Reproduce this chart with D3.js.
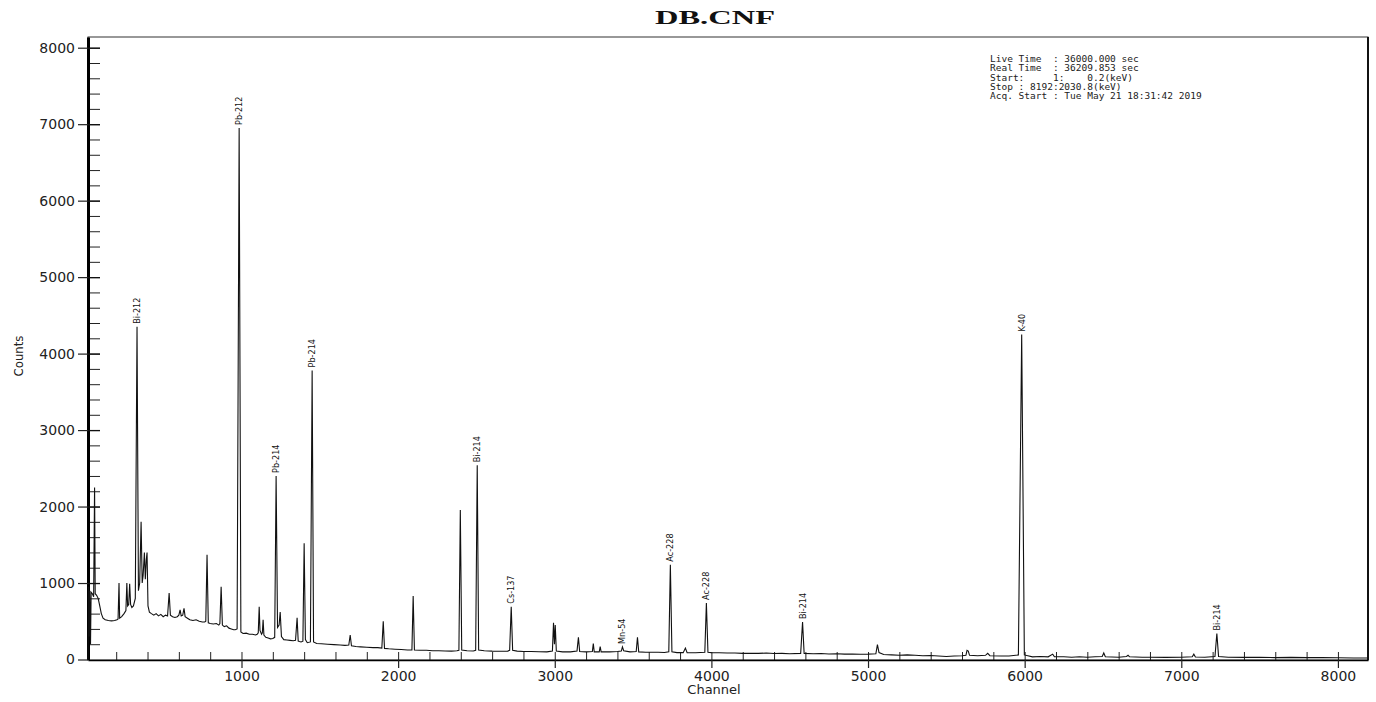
<!DOCTYPE html>
<html>
<head>
<meta charset="utf-8">
<script src="https://cdn.jsdelivr.net/npm/d3@7"></script>
<style>
  html, body { margin: 0; padding: 0; background: #fff; }
  svg { display: block; }
</style>
</head>
<body>
<svg id="chart" width="1376" height="702"></svg>
<script>
// ---- Data ----
const chartTitle = "DB.CNF";
const xTickValues = [1000, 2000, 3000, 4000, 5000, 6000, 7000, 8000];
const yTickValues = [0, 1000, 2000, 3000, 4000, 5000, 6000, 7000, 8000];

// spectrum as [channel, counts]
const spectrum = [
  [20,0],[23,950],[27,300],[31,900],[36,200],[40,880],[48,860],[56,820],
  [62,2250],[66,860],[75,840],[85,800],[95,700],[105,600],[116,540],[130,520],
  [150,510],[170,505],[190,510],[205,520],[212,530],[218,1000],[222,540],[235,560],
  [250,600],[262,640],[268,1000],[273,700],[280,720],[286,990],[292,720],[300,680],
  [310,700],[322,800],[333,4350],[342,900],[350,1000],[359,1800],[366,1000],[372,1100],
  [380,1400],[386,1050],[392,1300],[397,1400],[403,700],[412,620],[425,600],[440,580],
  [455,600],[470,570],[485,590],[500,560],[515,580],[528,570],[538,870],[546,580],
  [560,560],[575,550],[590,560],[600,580],[608,650],[615,570],[625,580],[633,670],
  [640,560],[655,540],[670,520],[690,510],[710,520],[730,500],[750,490],[765,490],
  [772,500],[780,1370],[788,480],[800,470],[820,465],[840,470],[855,450],[862,470],
  [870,950],[878,450],[890,430],[905,440],[920,410],[935,400],[950,390],[960,390],
  [972,400],[985,6950],[996,360],[1010,340],[1030,345],[1050,330],[1070,330],[1090,320],
  [1100,330],[1107,350],[1113,690],[1118,380],[1128,330],[1133,350],[1138,520],[1143,320],
  [1155,290],[1170,280],[1185,270],[1200,275],[1212,290],[1221,2400],[1230,420],[1240,450],
  [1247,620],[1255,300],[1270,260],[1290,255],[1310,250],[1330,245],[1345,250],[1355,545],
  [1362,240],[1370,235],[1380,230],[1392,240],[1400,1520],[1408,260],[1420,220],[1440,230],
  [1451,3780],[1460,230],[1480,210],[1510,205],[1550,200],[1590,195],[1630,190],[1660,185],
  [1685,190],[1694,320],[1702,180],[1730,170],[1760,165],[1800,160],[1840,155],[1870,155],
  [1896,150],[1905,500],[1913,145],[1940,140],[1980,135],[2020,130],[2060,125],[2088,125],
  [2096,830],[2104,125],[2140,120],[2180,120],[2220,115],[2260,115],[2300,112],[2340,110],
  [2375,115],[2388,120],[2397,1955],[2406,125],[2440,115],[2480,112],[2495,120],[2505,2540],
  [2514,125],[2550,115],[2600,110],[2650,108],[2700,110],[2712,120],[2722,690],[2731,120],
  [2760,110],[2800,105],[2850,105],[2900,102],[2950,100],[2985,110],[2992,480],[2998,200],
  [3003,450],[3010,110],[3050,100],[3100,100],[3142,110],[3151,290],[3159,105],[3200,100],
  [3240,105],[3246,210],[3252,100],[3284,100],[3290,170],[3296,100],[3350,100],[3400,105],
  [3425,110],[3432,165],[3440,115],[3480,100],[3520,105],[3528,290],[3536,100],[3580,95],
  [3620,95],[3660,95],[3700,92],[3728,100],[3738,1240],[3748,100],[3780,90],[3820,90],
  [3834,150],[3845,90],[3900,88],[3958,95],[3968,740],[3978,95],[4000,90],[4050,88],
  [4100,85],[4150,85],[4200,80],[4250,82],[4300,80],[4350,85],[4400,78],[4450,80],
  [4500,75],[4570,80],[4582,490],[4592,80],[4650,75],[4700,78],[4750,72],[4800,75],
  [4850,70],[4900,72],[4950,68],[5000,70],[5050,75],[5060,195],[5070,90],[5100,65],
  [5150,60],[5200,55],[5250,60],[5300,55],[5350,50],[5400,52],[5450,45],[5500,40],
  [5550,45],[5600,50],[5625,55],[5632,120],[5640,110],[5648,55],[5700,50],[5750,55],
  [5764,80],[5778,50],[5850,45],[5900,45],[5960,60],[5981,4250],[5998,60],[6050,35],
  [6100,40],[6150,35],[6179,70],[6190,35],[6250,35],[6300,30],[6350,35],[6400,30],
  [6450,35],[6495,40],[6505,85],[6515,35],[6600,30],[6650,40],[6660,55],[6670,35],
  [6750,30],[6800,30],[6900,28],[7000,30],[7070,35],[7080,70],[7090,32],[7150,30],
  [7215,40],[7227,340],[7238,40],[7300,30],[7400,28],[7500,30],[7600,25],[7700,28],
  [7800,25],[7900,25],[8000,22],[8100,20],[8190,20]
];

// identified peaks
const peakNames    = ["Bi-212","Pb-212","Pb-214","Pb-214","Bi-214","Cs-137","Mn-54","Ac-228","Ac-228","Bi-214","K-40","Bi-214"];
const peakChannels = [333, 985, 1221, 1451, 2505, 2722, 3432, 3738, 3968, 4582, 5981, 7227];
const peakCounts   = [4350, 6950, 2400, 3780, 2540, 690, 165, 1240, 740, 490, 4250, 340];

const infoLines = [
  "Live Time  : 36000.000 sec",
  "Real Time  : 36209.853 sec",
  "Start:     1:    0.2(keV)",
  "Stop : 8192:2030.8(keV)",
  "Acq. Start : Tue May 21 18:31:42 2019"
];

// ---- Layout ----
const svg = d3.select("#chart");
const L = 88, R = 1368, T = 37, B = 660;

const x = d3.scaleLinear().domain([20, 8192]).range([L, R]);
const y = d3.scaleLinear().domain([0, 8140]).range([B - 0.5, T]);

// frame
svg.append("rect")
  .attr("x", L).attr("y", T).attr("width", R - L).attr("height", B - T)
  .attr("fill", "none").attr("stroke", "#333").attr("stroke-width", 1);
svg.append("line").attr("x1", R).attr("x2", R).attr("y1", T).attr("y2", B)
  .attr("stroke", "#111").attr("stroke-width", 2);

const tickFont = "'DejaVu Sans', sans-serif";

// y axis: minor inside ticks
svg.append("g").attr("transform", `translate(${L},0)`)
  .call(d3.axisLeft(y).tickValues(d3.range(200, 8001, 200)).tickSize(-12).tickSizeOuter(0).tickFormat(""))
  .call(g => g.select(".domain").remove())
  .call(g => g.selectAll("line").attr("stroke", "#222").attr("stroke-width", 1));
// y axis: major ticks + labels
const yAx = svg.append("g").attr("transform", `translate(${L},0)`)
  .call(d3.axisLeft(y).tickValues(yTickValues).tickSize(10).tickSizeOuter(0).tickPadding(3).tickFormat(d3.format("d")));
yAx.select(".domain").attr("stroke", "#000").attr("stroke-width", 3);
yAx.selectAll("line").attr("stroke", "#222").attr("stroke-width", 1.2);
yAx.selectAll("text").attr("font-family", tickFont).attr("font-size", 14).attr("fill", "#222");
// inner part of major ticks
svg.append("g").attr("transform", `translate(${L},0)`)
  .call(d3.axisLeft(y).tickValues(yTickValues.filter(d => d > 0)).tickSize(-12).tickSizeOuter(0).tickFormat(""))
  .call(g => g.select(".domain").remove())
  .call(g => g.selectAll("line").attr("stroke", "#111").attr("stroke-width", 1.3));

// x axis: minor up ticks
svg.append("g").attr("transform", `translate(0,${B})`)
  .call(d3.axisBottom(x).tickValues(d3.range(200, 8192, 200)).tickSize(-8).tickSizeOuter(0).tickFormat(""))
  .call(g => g.select(".domain").remove())
  .call(g => g.selectAll("line").attr("stroke", "#222").attr("stroke-width", 1));
// x axis: major ticks + labels
const xAx = svg.append("g").attr("transform", `translate(0,${B})`)
  .call(d3.axisBottom(x).tickValues(xTickValues).tickSize(8).tickSizeOuter(0).tickPadding(3).tickFormat(d3.format("d")));
xAx.select(".domain").attr("stroke", "#000").attr("stroke-width", 1.5);
xAx.selectAll("line").attr("stroke", "#222").attr("stroke-width", 1.2);
xAx.selectAll("text").attr("font-family", tickFont).attr("font-size", 14).attr("fill", "#222");

// spectrum
const line = d3.line().x(d => x(d[0])).y(d => y(d[1]));
svg.append("path").datum(spectrum)
  .attr("d", line).attr("fill", "none")
  .attr("stroke", "#111").attr("stroke-width", 1.1).attr("stroke-linejoin", "miter");

// peak labels
svg.append("g").selectAll("text").data(peakNames).join("text")
  .attr("transform", (d, i) => `translate(${x(peakChannels[i]) + 3},${y(peakCounts[i]) - 3}) rotate(-90)`)
  .attr("text-anchor", "start")
  .attr("font-family", "'DejaVu Sans Condensed', 'Liberation Sans Narrow', sans-serif")
  .attr("font-size", 9)
  .attr("fill", "#111")
  .text(d => d);

// title
svg.append("text").attr("x", 655).attr("y", 24)
  .attr("font-family", "'Liberation Serif', 'DejaVu Serif', serif")
  .attr("font-weight", "bold").attr("font-size", 19)
  .attr("textLength", 120).attr("lengthAdjust", "spacingAndGlyphs")
  .attr("fill", "#111").text(chartTitle);

// axis titles
svg.append("text").attr("transform", "translate(23,356) rotate(-90)")
  .attr("text-anchor", "middle")
  .attr("font-family", "'DejaVu Sans Condensed', 'Liberation Sans Narrow', sans-serif")
  .attr("font-size", 13).attr("fill", "#222").text("Counts");
svg.append("text").attr("x", 714).attr("y", 694).attr("text-anchor", "middle")
  .attr("font-family", "'DejaVu Sans', sans-serif")
  .attr("font-size", 13).attr("fill", "#222").text("Channel");

// acquisition info
svg.append("g").selectAll("text").data(infoLines).join("text")
  .attr("x", 990).attr("y", (d, i) => 62 + i * 9.3)
  .attr("font-family", "'DejaVu Sans Mono', 'Liberation Mono', monospace")
  .attr("font-size", 9.5).attr("fill", "#222")
  .style("white-space", "pre")
  .text(d => d);
</script>
</body>
</html>
